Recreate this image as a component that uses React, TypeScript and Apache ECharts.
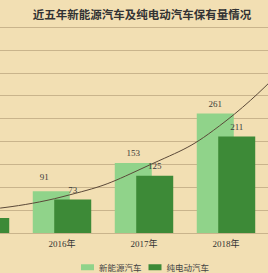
import React, { useEffect, useRef } from "react";
import * as echarts from "echarts";

const categories = ["2015年", "2016年", "2017年", "2018年", "2019年"];
const newEnergy = [58, 91, 153, 261, 381];
const pureElectric = [33, 73, 125, 211, 310];
const trend = [50, 79, 143, 245, 420];
const seriesNames = ["新能源汽车", "纯电动汽车"];
const titleText = "近五年新能源汽车及纯电动汽车保有量情况";

const OFFSET = 100;
const visible = (i: number) => i > 0 && i < categories.length - 1;

export default function App() {
  const ref = useRef<HTMLDivElement>(null);
  useEffect(() => {
    if (!ref.current) return;
    const chart = echarts.init(ref.current, null, { renderer: "svg" });
    const labelStyle = {
      show: true,
      position: "top",
      distance: 5,
      color: "#3a3a3a",
      fontSize: 9,
      fontFamily: "Liberation Serif, serif",
    };
    const toItems = (arr: number[], special?: number, offset?: number[]) =>
      arr.map((v, i) => {
        if (!visible(i)) return { value: v, label: { show: false } };
        if (i === special) return { value: v, label: { offset } };
        return v;
      });
    chart.setOption({
      animation: false,
      backgroundColor: "#f2dfb3",
      title: {
        text: titleText,
        left: 137 + OFFSET,
        top: 3,
        textAlign: "center",
        textStyle: {
          fontSize: 11.5,
          fontWeight: "bold",
          color: "#333",
          fontFamily: "Noto Sans CJK SC",
        },
      },
      legend: {
        data: seriesNames,
        left: 76 + OFFSET,
        top: 258,
        itemWidth: 13,
        itemHeight: 6,
        itemGap: 7,
        icon: "rect",
        textStyle: {
          fontSize: 8.5,
          color: "#444",
          fontFamily: "Noto Sans CJK SC",
        },
      },
      grid: { left: 39, right: 19, top: 27, bottom: 40 },
      xAxis: {
        type: "category",
        data: categories,
        axisLine: { show: true, lineStyle: { color: "#c9b48c", width: 1 } },
        axisTick: { show: false },
        axisLabel: {
          margin: 6,
          fontSize: 9,
          color: "#333",
          fontFamily: "Liberation Serif, Noto Sans CJK SC, serif",
          interval: (i: number) => visible(i),
        },
      },
      yAxis: {
        type: "value",
        min: 0,
        max: 450,
        interval: 50,
        axisLabel: { show: false },
        axisLine: { show: false },
        axisTick: { show: false },
        splitLine: { lineStyle: { color: "#c9b48c", width: 1 } },
      },
      series: [
        {
          name: seriesNames[0],
          type: "bar",
          barWidth: 37,
          barGap: "-42%",
          itemStyle: { color: "#90d38a" },
          label: labelStyle,
          data: toItems(newEnergy, 1, [-7, -5]),
          z: 2,
        },
        {
          name: seriesNames[1],
          type: "bar",
          barWidth: 37,
          barGap: "-42%",
          itemStyle: { color: "#3d8a37" },
          label: labelStyle,
          data: toItems(pureElectric),
          z: 3,
        },
        {
          name: "趋势",
          type: "line",
          data: trend,
          smooth: true,
          symbol: "none",
          lineStyle: { color: "#5a4838", width: 1 },
          z: 5,
        },
      ],
    });
    return () => chart.dispose();
  }, []);
  return (
    <div
      style={{
        position: "fixed",
        left: 0,
        top: 0,
        width: 268,
        height: 273,
        overflow: "hidden",
        background: "#f2dfb3",
      }}
    >
      <div
        ref={ref}
        style={{ position: "absolute", left: -OFFSET, top: 0, width: 268 + 2 * OFFSET, height: 273 }}
      />
    </div>
  );
}
